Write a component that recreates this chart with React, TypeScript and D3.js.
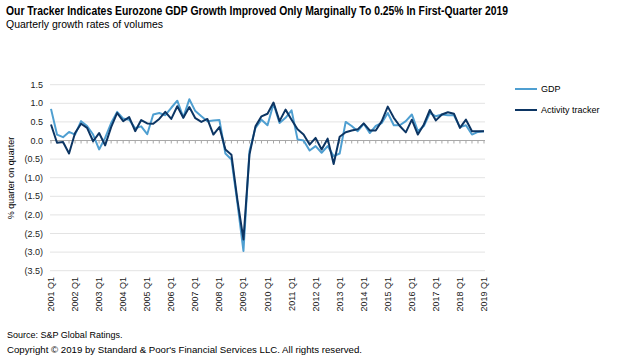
import React from "react";
import * as d3 from "d3";

const quarters: string[] = [];
for (let y = 2001; y <= 2019; y++) {
  for (let q = 1; q <= 4; q++) {
    if (y === 2019 && q > 1) break;
    quarters.push(`${y} Q${q}`);
  }
}

const gdp = [
  0.85, 0.16, 0.09, 0.23, 0.16, 0.52, 0.39, 0.16, -0.24, 0.07, 0.47, 0.77, 0.59, 0.56, 0.33, 0.38,
  0.17, 0.70, 0.74, 0.68, 0.88, 1.07, 0.62, 1.11, 0.79, 0.65, 0.52, 0.54, 0.55, -0.35, -0.51, -1.68,
  -2.97, -0.29, 0.34, 0.56, 0.41, 0.99, 0.47, 0.61, 0.81, 0.03, 0.0, -0.27, -0.15, -0.33, -0.15, -0.42,
  -0.35, 0.50, 0.39, 0.25, 0.45, 0.20, 0.39, 0.47, 0.74, 0.41, 0.41, 0.52, 0.70, 0.25, 0.39, 0.74,
  0.65, 0.70, 0.68, 0.68, 0.36, 0.41, 0.16, 0.23, 0.25,
];

const tracker = [
  0.43, -0.06, -0.04, -0.35, 0.20, 0.45, 0.34, -0.02, 0.20, -0.13, 0.36, 0.74, 0.52, 0.63, 0.25, 0.55,
  0.46, 0.45, 0.58, 0.77, 0.58, 0.92, 0.61, 0.90, 0.60, 0.50, 0.58, 0.16, 0.36, -0.24, -0.38, -1.60,
  -2.66, -0.38, 0.38, 0.65, 0.72, 1.02, 0.52, 0.83, 0.56, 0.30, 0.16, -0.11, 0.07, -0.24, 0.05, -0.63,
  0.10, 0.22, 0.27, 0.30, 0.46, 0.27, 0.27, 0.52, 0.91, 0.61, 0.39, 0.22, 0.56, 0.16, 0.43, 0.82,
  0.54, 0.70, 0.76, 0.72, 0.34, 0.56, 0.25, 0.25, 0.25,
];

const yTicks = [1.5, 1.0, 0.5, 0.0, -0.5, -1.0, -1.5, -2.0, -2.5, -3.0, -3.5];
const xLabels = quarters.filter((q) => q.endsWith("Q1"));

const FONT = "'Liberation Sans', Arial, sans-serif";
const GDP_COLOR = "#4f9fd1";
const TRK_COLOR = "#0c3563";

export default function App() {
  const x = d3.scalePoint<string>().domain(quarters).range([51, 484]);
  const y = d3.scaleLinear().domain([-3.5, 1.5]).range([270.7, 84.7]);
  const fmt = (v: number) => (v < 0 ? `(${Math.abs(v).toFixed(1)})` : v.toFixed(1));
  const line = d3
    .line<number>()
    .x((_, i) => x(quarters[i]) as number)
    .y((d) => y(d));

  return (
    <svg
      width={619}
      height={363}
      style={{ position: "absolute", left: 0, top: 0, background: "#fff" }}
      fontFamily={FONT}
    >
      <text x={6} y={15} fontSize={12} fontWeight="bold" fill="#000" textLength={502} lengthAdjust="spacingAndGlyphs">
        Our Tracker Indicates Eurozone GDP Growth Improved Only Marginally To 0.25% In First-Quarter 2019
      </text>
      <text x={6} y={28} fontSize={11} fill="#000" textLength={157} lengthAdjust="spacingAndGlyphs">
        Quarterly growth rates of volumes
      </text>

      {yTicks.map((t) => (
        <g key={t}>
          {t !== 0 && <line x1={50} x2={485} y1={y(t)} y2={y(t)} stroke="#e3e3e3" strokeWidth={1} />}
          <text x={43} y={y(t) + 3} fontSize={9} textAnchor="end" fill="#222">
            {fmt(t)}
          </text>
        </g>
      ))}

      <line x1={50} x2={485} y1={y(0)} y2={y(0)} stroke="#a8a8a8" strokeWidth={1} />
      {quarters.map((q) => (
        <line key={q} x1={x(q)} x2={x(q)} y1={y(0)} y2={y(0) + 3} stroke="#a8a8a8" strokeWidth={1} />
      ))}

      <text
        transform={`translate(14,178) rotate(-90)`}
        fontSize={9}
        textAnchor="middle"
        fill="#000"
      >
        % quarter on quarter
      </text>

      {xLabels.map((q) => (
        <text
          key={q}
          transform={`translate(${(x(q) as number) + 3},277) rotate(-90)`}
          fontSize={9}
          textAnchor="end"
          fill="#222"
        >
          {q}
        </text>
      ))}

      <path d={line(gdp) || ""} fill="none" stroke={GDP_COLOR} strokeWidth={2} strokeLinejoin="round" />
      <path d={line(tracker) || ""} fill="none" stroke={TRK_COLOR} strokeWidth={2} strokeLinejoin="round" />

      <line x1={515} x2={537} y1={89} y2={89} stroke={GDP_COLOR} strokeWidth={2} />
      <text x={541} y={92} fontSize={9} fill="#000">GDP</text>
      <line x1={515} x2={537} y1={110} y2={110} stroke={TRK_COLOR} strokeWidth={2} />
      <text x={541} y={113} fontSize={9} fill="#000">Activity tracker</text>

      <text x={7} y={338} fontSize={9} fill="#000">Source: S&amp;P Global Ratings.</text>
      <text x={7} y={353} fontSize={9} fill="#000" textLength={355} lengthAdjust="spacingAndGlyphs">
        Copyright © 2019 by Standard &amp; Poor's Financial Services LLC. All rights reserved.
      </text>
    </svg>
  );
}
